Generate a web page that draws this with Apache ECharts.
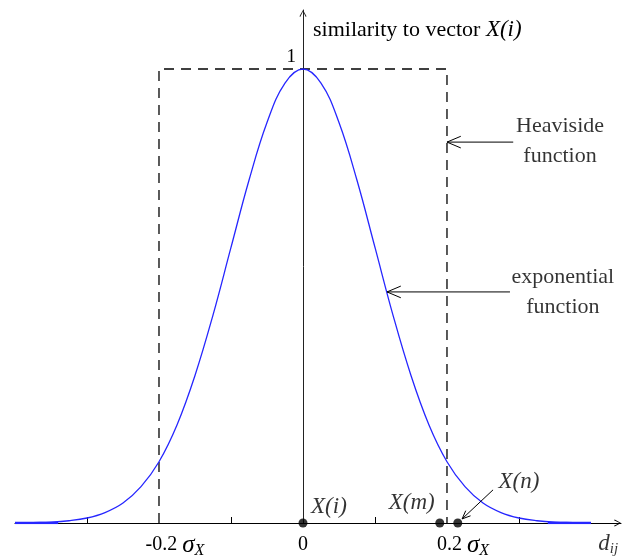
<!DOCTYPE html>
<html>
<head>
<meta charset="utf-8">
<script src="https://cdn.jsdelivr.net/npm/echarts@6/dist/echarts.min.js"></script>
<style>
    html, body { margin: 0; padding: 0; background: #fff; }
    #chart { width: 629px; height: 559px; }
</style>
</head>
<body>
<div id="chart"></div>
<script>
// distance d_ij (in sigma_X units) and similarity
const dValues = [-0.4, -0.375, -0.35, -0.325, -0.3, -0.275, -0.25, -0.225, -0.2, -0.175, -0.15, -0.125, -0.1, -0.075, -0.05, -0.025,
    0, 0.025, 0.05, 0.075, 0.1, 0.125, 0.15, 0.175, 0.2, 0.225, 0.25, 0.275, 0.3, 0.325, 0.35, 0.375, 0.4];
const similarity = [0, 0.001, 0.002, 0.005, 0.011, 0.023, 0.044, 0.08, 0.135, 0.216, 0.325, 0.458, 0.607, 0.755, 0.882, 0.969,
    1, 0.969, 0.882, 0.755, 0.607, 0.458, 0.325, 0.216, 0.135, 0.08, 0.044, 0.023, 0.011, 0.005, 0.002, 0.001, 0];
// flat parts of the curve lying on the axis
const tailLeftX = [-0.4, -0.34];
const tailRightX = [0.34, 0.4];
// Heaviside box
const heavisideX = [-0.2, -0.2, 0.2, 0.2];
const heavisideY = [0, 1, 1, 0];
// vectors on the d_ij axis
const pointNames = ['X(i)', 'X(m)', 'X(n)'];
const pointX = [0, 0.19, 0.215];
// axis ticks and labels
const xTickValues = [-0.3, -0.1, 0.1, 0.3];
const xLabelValues = [-0.2, 0, 0.2];
const yLabelValues = [1];

// annotation anchors, in data units
const notes = [
    { text: '{i|X(i)}', at: [0.036, 0.035] },
    { text: '{i|X(m)}', at: [0.151, 0.044] },
    { text: '{i|X(n)}', at: [0.3, 0.09] },
    { text: '{t|Heaviside}\n{t|function}', at: [0.357, 0.841] },
    { text: '{t|exponential}\n{t|function}', at: [0.361, 0.509] },
    { text: '{d|d}{s|ij}', at: [0.424, -0.046] },
];
const arrows = [
    [0.292, 0.839, 0.2, 0.839, 15],
    [0.2875, 0.509, 0.1167, 0.509, 15],
    [0.264, 0.073, 0.221, 0.009, 9],
];

const serif = 'Liberation Serif';
const chevron = 'path://M5,0 L10,9 L9,10 L5,2 L1,10 L0,9 Z';

const richText = {
    i: { fontFamily: serif, fontStyle: 'italic', fontSize: 23, color: '#000' },
    t: { fontFamily: serif, fontSize: 22, lineHeight: 30, color: '#000' },
    d: { fontFamily: serif, fontStyle: 'italic', fontSize: 23, color: '#000', lineHeight: 24 },
    s: { fontFamily: serif, fontStyle: 'italic', fontSize: 15, color: '#000', lineHeight: 24, padding: [10, 0, 0, 0] },
};

const chart = echarts.init(document.getElementById('chart'));
chart.setOption({
    animation: false,
    backgroundColor: '#fff',
    grid: { left: 15, right: 8, top: 10, bottom: 36, outerBoundsMode: 'none' },
    xAxis: {
        type: 'value',
        min: -0.4,
        max: 0.4417,
        splitLine: { show: false },
        axisLine: {
            lineStyle: { color: '#000', width: 1 },
            symbol: ['none', chevron],
            symbolSize: [9, 7],
            symbolOffset: [0, -3.5],
        },
        axisTick: { show: true, inside: true, length: 6, customValues: xTickValues, lineStyle: { color: '#000' } },
        axisLabel: {
            customValues: xLabelValues,
            margin: 8,
            formatter: (v) => (v === 0 ? '{n|0}' : '{p|}{n|' + v + '}{g|σ}{x|X}'),
            rich: {
                n: { fontFamily: serif, fontSize: 20, color: '#000', lineHeight: 28 },
                p: { width: 32 },
                g: { fontFamily: serif, fontStyle: 'italic', fontSize: 25, color: '#000', lineHeight: 28, padding: [0, 0, 0, 5] },
                x: { fontFamily: serif, fontStyle: 'italic', fontSize: 16, color: '#000', lineHeight: 28, padding: [12, 0, 0, 0] },
            },
        },
    },
    yAxis: {
        type: 'value',
        min: 0,
        max: 1.13,
        offset: -288,
        splitLine: { show: false },
        axisLine: {
            onZero: false,
            lineStyle: { color: '#222', width: 1 },
            symbol: ['none', chevron],
            symbolSize: [9, 7],
            symbolOffset: [0, -3.5],
        },
        axisTick: { show: false },
        axisLabel: {
            customValues: yLabelValues,
            margin: 7,
            verticalAlign: 'bottom',
            padding: [0, 0, 3, 0],
            fontFamily: serif,
            fontSize: 19,
            color: '#000',
        },
        name: 'similarity to vector {i|X(i)}',
        nameLocation: 'end',
        nameGap: -20,
        nameTextStyle: {
            align: 'left',
            verticalAlign: 'middle',
            padding: [0, 0, 0, 10],
            fontFamily: serif,
            fontSize: 22,
            color: '#000',
            rich: richText,
        },
    },
    series: [
        {
            name: 'Heaviside',
            type: 'line',
            data: heavisideX.map((x, k) => [x, heavisideY[k]]),
            symbol: 'none',
            lineStyle: { color: '#000', width: 1.3, type: [10, 7] },
            z: 3,
        },
        {
            name: 'exponential',
            type: 'line',
            data: dValues.map((x, k) => [x, similarity[k]]),
            smooth: 0.4,
            symbol: 'none',
            lineStyle: { color: '#2626ff', width: 1.3 },
            z: 4,
        },
        {
            type: 'line',
            data: tailLeftX.map((x) => [x, 0]),
            symbol: 'none',
            lineStyle: { color: '#2626ff', width: 2.5 },
            z: 4,
        },
        {
            type: 'line',
            data: tailRightX.map((x) => [x, 0]),
            symbol: 'none',
            lineStyle: { color: '#2626ff', width: 2.5 },
            z: 4,
        },
        {
            type: 'scatter',
            data: pointX.map((x, k) => ({ name: pointNames[k], value: [x, 0] })),
            symbolSize: 9,
            itemStyle: { color: '#000' },
            clip: false,
            z: 6,
        },
        {
            type: 'custom',
            clip: false,
            z: 5,
            data: arrows,
            renderItem(params, api) {
                const p1 = api.coord([api.value(0), api.value(1)]);
                const p2 = api.coord([api.value(2), api.value(3)]);
                const len = api.value(4);
                const ang = Math.atan2(p1[1] - p2[1], p1[0] - p2[0]);
                const a = 0.4;
                const head = [
                    [p2[0] + len * Math.cos(ang + a), p2[1] + len * Math.sin(ang + a)],
                    p2,
                    [p2[0] + len * Math.cos(ang - a), p2[1] + len * Math.sin(ang - a)],
                ];
                const style = { stroke: '#000', lineWidth: 1, fill: null };
                return {
                    type: 'group',
                    children: [
                        { type: 'line', shape: { x1: p1[0], y1: p1[1], x2: p2[0], y2: p2[1] }, style },
                        { type: 'polyline', shape: { points: head }, style },
                    ],
                };
            },
        },
        {
            type: 'scatter',
            clip: false,
            symbolSize: 0,
            silent: true,
            data: notes.map((n) => ({ value: n.at, label: { formatter: n.text } })),
            label: {
                show: true,
                position: 'inside',
                align: 'center',
                verticalAlign: 'middle',
                rich: richText,
            },
            z: 7,
        },
    ],
});
</script>
</body>
</html>
